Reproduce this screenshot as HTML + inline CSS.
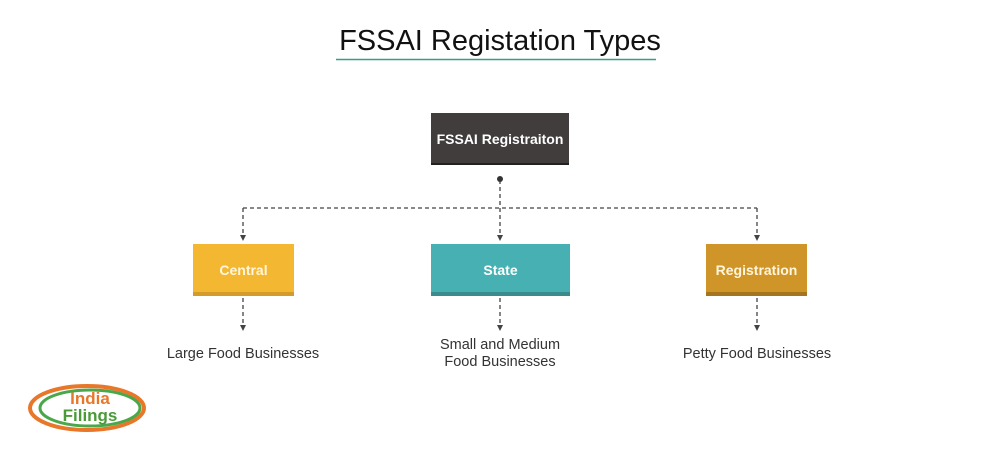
<!DOCTYPE html>
<html><head><meta charset="utf-8"><style>
body{margin:0;width:1000px;height:458px;background:#fff;position:relative;overflow:hidden;font-family:"Liberation Sans",sans-serif}
.t{position:absolute;white-space:nowrap}
.b{font-size:14px;font-weight:bold;font-family:"Liberation Sans",sans-serif}
</style></head><body>
<svg width="1000" height="458" style="position:absolute;left:0;top:0">
<line x1="336" y1="59.5" x2="656" y2="59.5" stroke="#3a9a8a" stroke-width="1.5"/>
<g stroke="#444" stroke-width="1.3" stroke-dasharray="4,3" fill="none">
<line x1="500" y1="180" x2="500" y2="236"/>
<line x1="243" y1="208" x2="757" y2="208"/>
<line x1="243" y1="208" x2="243" y2="236"/>
<line x1="757" y1="208" x2="757" y2="236"/>
<line x1="243" y1="298" x2="243" y2="326"/>
<line x1="500" y1="298" x2="500" y2="326"/>
<line x1="757" y1="298" x2="757" y2="326"/>
</g>
<g fill="#444">
<path d="M240,235 L246,235 L243,241 z"/>
<path d="M497,235 L503,235 L500,241 z"/>
<path d="M754,235 L760,235 L757,241 z"/>
<path d="M240,325 L246,325 L243,331 z"/>
<path d="M497,325 L503,325 L500,331 z"/>
<path d="M754,325 L760,325 L757,331 z"/>
</g>
<circle cx="500" cy="179" r="3" fill="#333"/>
<rect x="431" y="113" width="138" height="52" fill="#413d3c"/>
<rect x="431" y="163" width="138" height="2" fill="#222"/>
<rect x="193" y="244" width="101" height="52" fill="#f4b731"/>
<rect x="193" y="292" width="101" height="4" fill="#d49a2a"/>
<rect x="431" y="244" width="139" height="52" fill="#46b0b2"/>
<rect x="431" y="292" width="139" height="4" fill="#3a8c8c"/>
<rect x="706" y="244" width="101" height="52" fill="#d09528"/>
<rect x="706" y="292" width="101" height="4" fill="#a5741c"/>
<ellipse cx="87" cy="408" rx="57" ry="22" fill="none" stroke="#e8772a" stroke-width="4"/>
<ellipse cx="90" cy="408" rx="50" ry="18" fill="#fff" stroke="#4aa84a" stroke-width="3"/>
</svg>
<div class="t" style="left:0;width:1000px;text-align:center;top:25px;font-size:29px;color:#111">FSSAI Registation Types</div>
<div class="t b" style="left:431px;width:138px;text-align:center;top:131px;color:#fff">FSSAI Registraiton</div>
<div class="t b" style="left:193px;width:101px;text-align:center;top:262px;color:#fff6dd">Central</div>
<div class="t b" style="left:431px;width:139px;text-align:center;top:262px;color:#fff">State</div>
<div class="t b" style="left:706px;width:101px;text-align:center;top:262px;color:#fff6dd">Registration</div>
<div class="t" style="left:143px;width:200px;text-align:center;top:346px;font-size:14.5px;color:#333">Large Food Businesses</div>
<div class="t" style="left:400px;width:200px;text-align:center;top:337px;font-size:14.5px;color:#333;line-height:17px">Small and Medium<br>Food Businesses</div>
<div class="t" style="left:657px;width:200px;text-align:center;top:346px;font-size:14.5px;color:#333">Petty Food Businesses</div>
<div class="t" style="left:40px;width:100px;text-align:center;top:390px;font-size:17px;font-weight:bold;color:#e8772a;line-height:17px">India</div>
<div class="t" style="left:40px;width:100px;text-align:center;top:407px;font-size:17px;font-weight:bold;color:#4a9a3a;line-height:17px">Filings</div>
</body></html>
